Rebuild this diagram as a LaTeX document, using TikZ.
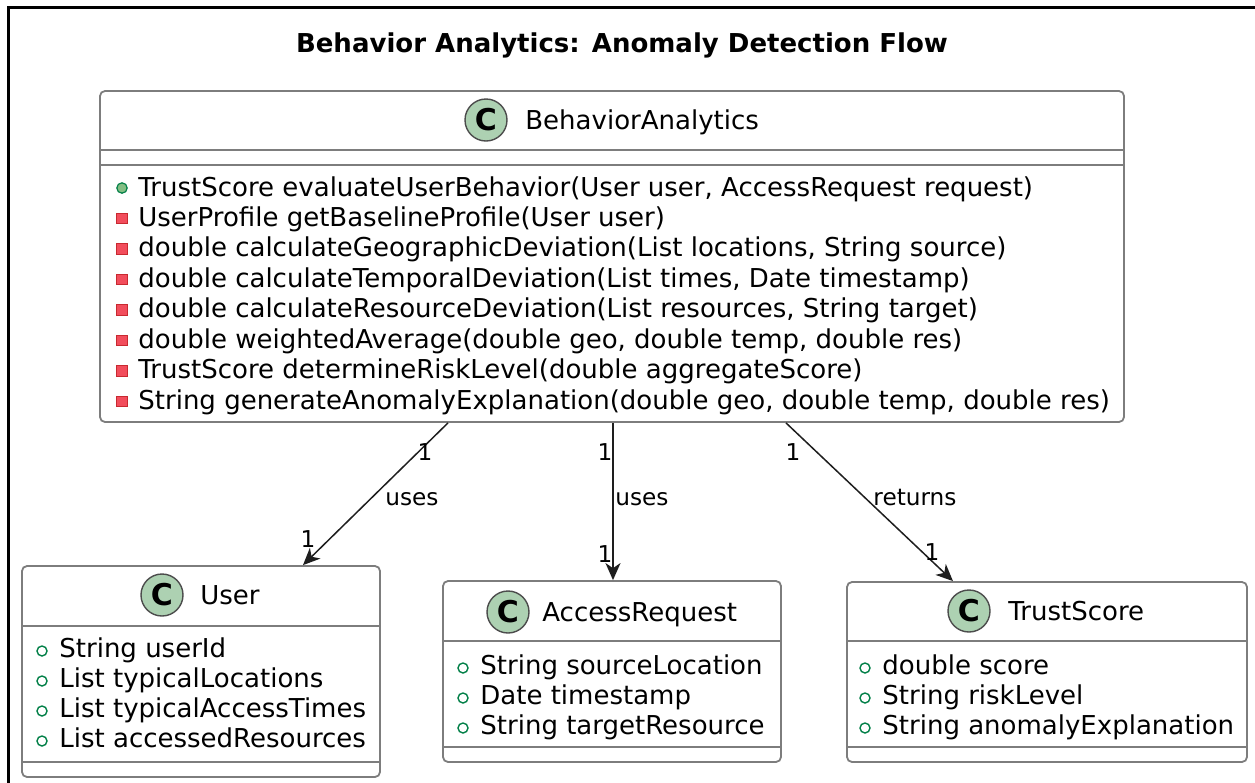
\documentclass[tikz,border=0pt]{standalone}
\usepackage{fontspec}
\setmainfont{DejaVu Sans}
\usetikzlibrary{arrows.meta}
\definecolor{boxline}{RGB}{125,125,125}
\definecolor{cfill}{RGB}{173,209,178}
\definecolor{pubgreen}{RGB}{3,128,72}
\definecolor{pubfill}{RGB}{132,190,132}
\definecolor{privred}{RGB}{200,41,48}
\definecolor{privfill}{RGB}{242,77,92}
\definecolor{arrowc}{RGB}{30,30,30}
\newcommand{\pubattr}[4]{%
  \draw[pubgreen, line width=0.7pt, fill=white] (#2,#3+3) circle[radius=2.5pt];
  \node[body] (#1) at (#2+17,#3+9) {#4};}
\newcommand{\pubmeth}[4]{%
  \draw[pubgreen, line width=0.6pt, fill=pubfill] (#2,#3+1) circle[radius=2.6pt];
  \node[body] (#1) at (#2+16,#3+9) {#4};}
\newcommand{\privmeth}[4]{%
  \filldraw[fill=privfill, draw=privred, line width=0.5pt] (#2-5.5,#3-4) rectangle (#2+5.5,#3+6.5);
  \node[body] (#1) at (#2+16,#3+9) {#4};}
\begin{document}
\begin{tikzpicture}[x=0.5pt,y=-0.5pt,
  classbox/.style={draw=boxline, line width=0.9pt, rounded corners=2.5pt, fill=white, inner sep=0pt},
  sep/.style={draw=boxline, line width=0.9pt},
  body/.style={anchor=base west, inner sep=0pt, font=\fontsize{13}{15}\selectfont},
  cname/.style={anchor=base west, inner sep=0pt, font=\fontsize{13}{15}\selectfont},
  cicon/.style={circle, draw=black!70, fill=cfill, line width=0.7pt, minimum size=21pt, inner sep=0pt, font=\fontsize{15}{15}\selectfont\bfseries},
  lbl/.style={anchor=base, inner sep=0pt, font=\fontsize{11.6}{13}\selectfont},
  arr/.style={draw=arrowc, line width=0.75pt, -{Stealth[length=8.5pt, width=7.5pt, inset=2.5pt]}}
]
\useasboundingbox (0,0) rectangle (1255,783);
\begin{scope}
\clip (0,0) rectangle (1255,783);
\draw[line width=1.25pt] (8.5,800) -- (8.5,7.5) -- (1270,7.5);
\end{scope}

% title
\node[anchor=base, inner sep=0pt, font=\fontsize{13}{15}\selectfont\bfseries] (title) at (622,52) {Behavior Analytics: Anomaly Detection Flow};

% BehaviorAnalytics
\node[classbox, minimum width=512pt, minimum height=165.5pt] (ba) at (612,256.5) {};
\draw[sep] (100,150) -- (1124,150);
\draw[sep] (100,165) -- (1124,165);
\node[cicon] (baC) at (486,120) {C};
\node[cname] (baN) at (525,129) {BehaviorAnalytics};
\pubmeth{m1}{122}{187}{TrustScore evaluateUserBehavior(User user, AccessRequest request)}
\privmeth{m2}{122}{217.4}{UserProfile getBaselineProfile(User user)}
\privmeth{m3}{122}{247.9}{double calculateGeographicDeviation(List locations, String source)}
\privmeth{m4}{122}{278.3}{double calculateTemporalDeviation(List times, Date timestamp)}
\privmeth{m5}{122}{308.7}{double calculateResourceDeviation(List resources, String target)}
\privmeth{m6}{122}{339.1}{double weightedAverage(double geo, double temp, double res)}
\privmeth{m7}{122}{369.6}{TrustScore determineRiskLevel(double aggregateScore)}
\privmeth{m8}{122}{400}{String generateAnomalyExplanation(double geo, double temp, double res)}

% User
\node[classbox, minimum width=179pt, minimum height=105.5pt] (user) at (201,671.5) {};
\draw[sep] (22,626) -- (380,626);
\draw[sep] (22,762) -- (380,762);
\node[cicon] (userC) at (162,595) {C};
\node[cname] (userN) at (200,604) {User};
\pubattr{u1}{42}{648}{String userId}
\pubattr{u2}{42}{678}{List typicalLocations}
\pubattr{u3}{42}{708}{List typicalAccessTimes}
\pubattr{u4}{42}{738}{List accessedResources}

% AccessRequest
\node[classbox, minimum width=169pt, minimum height=90.5pt] (acc) at (612,671.5) {};
\draw[sep] (443,641) -- (781,641);
\draw[sep] (443,747) -- (781,747);
\node[cicon] (accC) at (508,612) {C};
\node[cname] (accN) at (542,621) {AccessRequest};
\pubattr{a1}{463}{665}{String sourceLocation}
\pubattr{a2}{463}{695}{Date timestamp}
\pubattr{a3}{463}{725}{String targetResource}

% TrustScore
\node[classbox, minimum width=200pt, minimum height=90pt] (trust) at (1047,672) {};
\draw[sep] (847,641) -- (1247,641);
\draw[sep] (847,747) -- (1247,747);
\node[cicon] (trustC) at (969,611) {C};
\node[cname] (trustN) at (1008,620) {TrustScore};
\pubattr{t1}{865}{665}{double score}
\pubattr{t2}{865}{695}{String riskLevel}
\pubattr{t3}{865}{725}{String anomalyExplanation}

% connectors
\draw[arr] ([xshift=-82pt]ba.south) -- ([xshift=51pt]user.north);
\draw[arr] ([xshift=0.5pt]ba.south) -- ([xshift=0.5pt]acc.north);
\draw[arr] ([xshift=87pt]ba.south) -- ([xshift=-47pt]trust.north);

% labels
\node[lbl] (l1a) at (425,460) {1};
\node[lbl] (l1b) at (412,505) {uses};
\node[lbl] (l1c) at (308,547) {1};
\node[lbl] (l2a) at (605,460) {1};
\node[lbl] (l2b) at (642,505) {uses};
\node[lbl] (l2c) at (605,562) {1};
\node[lbl] (l3a) at (793,460) {1};
\node[lbl] (l3b) at (915,505) {returns};
\node[lbl] (l3c) at (932,560) {1};
\end{tikzpicture}
\end{document}
